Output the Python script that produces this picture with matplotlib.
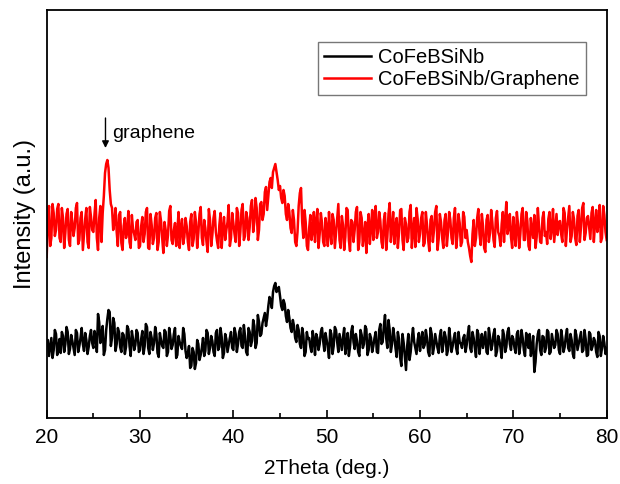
import numpy as np
import matplotlib
matplotlib.use("Agg")
import matplotlib.pyplot as plt
from matplotlib.ticker import MultipleLocator

plt.rcParams['font.family'] = ['Liberation Sans', 'DejaVu Sans']

# Intensity (a.u.).
# *_grid: points at 20.00, 20.25, ..., 80.00 deg
# *_mid : points at 20.125, 20.375, ..., 79.875 deg
cofebsinb_grid = [
    73, 62, 80, 68, 84, 70, 65, 82, 74, 86, 69, 77, 63, 85, 72, 90, 67, 78, 71, 88,
    70, 81, 104, 75, 92, 68, 99, 106, 80, 95, 74, 86, 66, 83, 71, 89, 62, 79, 73, 85,
    68, 87, 72, 91, 64, 80, 75, 84, 61, 78, 70, 86, 66, 82, 73, 90, 63, 76, 69, 84,
    60, 72, 52, 66, 55, 74, 63, 80, 67, 85, 70, 77, 62, 88, 71, 81, 65, 79, 73, 86,
    68, 84, 74, 90, 70, 82, 63, 86, 77, 92, 75, 96, 84, 100, 92, 112, 118, 126, 135, 128,
    122, 108, 114, 96, 100, 86, 92, 76, 88, 70, 83, 66, 79, 71, 87, 63, 80, 74, 90, 67,
    78, 60, 84, 72, 88, 66, 76, 81, 64, 85, 71, 92, 69, 77, 62, 83, 74, 89, 68, 80,
    72, 86, 65, 94, 76, 103, 70, 88, 74, 82, 61, 79, 52, 75, 48, 84, 66, 90, 70, 78,
    67, 86, 73, 80, 62, 84, 71, 77, 65, 88, 74, 81, 68, 79, 72, 85, 64, 76, 70, 83,
    73, 92, 66, 80, 61, 84, 75, 70, 86, 64, 81, 73, 89, 67, 78, 60, 83, 71, 90, 68,
    79, 65, 87, 72, 80, 62, 76, 84, 69, 46, 74, 88, 63, 81, 70, 86, 66, 77, 73, 84,
    64, 80, 71, 89, 67, 78, 60, 83, 74, 86, 68, 79, 63, 84, 72, 77, 61, 82, 70, 75,
    70,
]
cofebsinb_mid = [
    78, 71, 60, 88, 63, 79, 86, 66, 91, 64, 83, 70, 88, 66, 80, 74, 85, 64, 82, 75,
    87, 66, 96, 84, 63, 88, 108, 72, 100, 67, 90, 71, 85, 64, 92, 72, 87, 68, 88, 66,
    79, 64, 94, 70, 86, 68, 91, 65, 85, 72, 88, 62, 90, 69, 84, 60, 82, 72, 90, 67,
    65, 50, 70, 49, 78, 58, 70, 62, 88, 64, 82, 66, 85, 68, 90, 60, 84, 66, 80, 70,
    90, 66, 86, 72, 93, 66, 90, 72, 98, 70, 103, 82, 95, 105, 100, 121, 110, 132, 126, 131,
    112, 118, 102, 108, 90, 98, 80, 93, 74, 90, 62, 86, 80, 66, 78, 84, 68, 86, 77, 85,
    70, 88, 64, 91, 76, 84, 68, 90, 74, 62, 86, 76, 84, 66, 88, 70, 92, 63, 84, 66,
    80, 66, 88, 74, 92, 80, 98, 66, 90, 70, 86, 60, 84, 62, 72, 58, 80, 76, 64, 85,
    78, 70, 88, 66, 90, 64, 84, 70, 82, 66, 86, 63, 90, 66, 80, 70, 86, 74, 80, 66,
    84, 70, 86, 70, 88, 64, 84, 78, 66, 90, 68, 84, 62, 82, 70, 88, 66, 86, 74, 82,
    70, 84, 64, 88, 68, 85, 70, 62, 82, 56, 84, 68, 82, 66, 88, 64, 84, 70, 88, 68,
    88, 66, 82, 70, 84, 64, 88, 68, 80, 66, 88, 62, 86, 68, 80, 66, 86, 62, 82, 64,
]

graphene_grid = [
    161, 212, 180, 205, 188, 214, 176, 200, 185, 209, 172, 196, 190, 215, 178, 206, 183, 210, 170, 201,
    186, 218, 168, 212, 205, 245, 258, 228, 210, 196, 186, 203, 175, 192, 180, 207, 170, 189, 178, 198,
    172, 201, 184, 210, 169, 193, 180, 205, 176, 197, 165, 188, 183, 212, 174, 195, 186, 170, 199, 181,
    192, 168, 204, 179, 196, 185, 211, 173, 190, 166, 198, 183, 207, 177, 193, 170, 201, 188, 213, 180,
    195, 176, 205, 186, 214, 182, 200, 191, 218, 196, 210, 188, 216, 204, 231, 222, 240, 246, 254, 238,
    232, 215, 222, 198, 206, 185, 198, 172, 212, 230, 180, 196, 168, 203, 187, 176, 209, 184, 195, 172,
    190, 206, 174, 198, 185, 214, 170, 193, 181, 208, 167, 196, 188, 211, 176, 200, 183, 165, 204, 190,
    178, 212, 186, 197, 170, 205, 181, 215, 190, 174, 200, 185, 209, 168, 194, 180, 213, 187, 171, 199,
    184, 206, 175, 193, 167, 202, 188, 212, 179, 196, 170, 204, 186, 198, 174, 210, 182, 195, 176, 201,
    188, 170, 156, 198, 180, 209, 173, 192, 166, 203, 185, 196, 171, 207, 182, 194, 176, 216, 190, 181,
    201, 172, 194, 184, 210, 178, 197, 168, 188, 203, 181, 192, 175, 206, 186, 199, 179, 209, 190, 183,
    197, 176, 205, 189, 212, 182, 199, 173, 208, 191, 215, 185, 202, 179, 211, 194, 186, 213, 180, 203,
    178,
]
graphene_mid = [
    198, 172, 214, 182, 209, 180, 210, 170, 204, 178, 206, 182, 210, 174, 200, 168, 199, 176, 211, 188,
    204, 180, 200, 176, 222, 254, 250, 214, 188, 210, 172, 206, 168, 200, 186, 176, 203, 184, 196, 170,
    192, 176, 206, 170, 204, 174, 200, 168, 206, 180, 196, 172, 207, 178, 188, 172, 206, 190, 174, 200,
    176, 196, 172, 206, 170, 204, 180, 198, 176, 209, 172, 200, 186, 170, 205, 190, 178, 196, 172, 205,
    184, 210, 172, 208, 178, 206, 178, 212, 186, 220, 178, 214, 198, 226, 208, 236, 230, 250, 246, 228,
    220, 228, 204, 214, 190, 208, 176, 186, 225, 196, 208, 172, 190, 178, 206, 196, 170, 205, 176, 200,
    172, 186, 204, 170, 200, 178, 202, 168, 210, 178, 198, 176, 206, 168, 206, 172, 196, 192, 174, 208,
    200, 180, 206, 176, 198, 168, 204, 176, 206, 192, 170, 208, 178, 200, 176, 206, 170, 200, 210, 176,
    200, 172, 206, 178, 198, 176, 206, 168, 204, 180, 198, 172, 206, 180, 200, 170, 204, 172, 206, 180,
    176, 162, 184, 172, 200, 184, 204, 170, 198, 176, 208, 178, 200, 186, 172, 206, 198, 184, 204, 170,
    184, 206, 170, 204, 178, 206, 172, 200, 180, 170, 210, 176, 200, 182, 174, 206, 190, 176, 204, 196,
    184, 210, 172, 200, 176, 206, 180, 202, 176, 210, 178, 200, 190, 205, 176, 208, 196, 176, 212, 186,
]

series_labels = ["CoFeBSiNb", "CoFeBSiNb/Graphene"]
x_ticks = [20, 30, 40, 50, 60, 70, 80]


def interleave(grid, mid):
    out = np.empty(len(grid) + len(mid))
    out[0::2] = grid
    out[1::2] = mid
    return out


two_theta = 20.0 + 0.125 * np.arange(len(cofebsinb_grid) + len(cofebsinb_mid))
cofebsinb = interleave(cofebsinb_grid, cofebsinb_mid)
cofebsinb_graphene = interleave(graphene_grid, graphene_mid)

fig = plt.figure(figsize=(6.2, 4.84), dpi=100)
ax = fig.add_axes([0.0753, 0.1364, 0.9032, 0.8429])

ax.plot(two_theta, cofebsinb, color='black', lw=1.8, label=series_labels[0])
ax.plot(two_theta, cofebsinb_graphene, color='#ff0000', lw=1.8, label=series_labels[1])

ax.set_xlim(20, 80)
ax.set_ylim(0, 408)
ax.set_xticks(x_ticks)
ax.xaxis.set_minor_locator(MultipleLocator(5))
ax.set_yticks([])
ax.tick_params(axis='x', which='major', direction='in', length=6, width=1.2,
               labelsize=15, pad=7, top=False)
ax.tick_params(axis='x', which='minor', direction='in', length=3.5, width=1.2, top=False)
for s in ax.spines.values():
    s.set_linewidth(1.3)

ax.set_xlabel("2Theta (deg.)", fontsize=15, labelpad=9)
ax.set_ylabel("Intensity (a.u.)", fontsize=17, labelpad=8)

ax.annotate("", xy=(26.3, 270), xytext=(26.3, 300),
            arrowprops=dict(arrowstyle='-|>', color='black', lw=1.0,
                            mutation_scale=10, shrinkA=0, shrinkB=0))
ax.text(27.0, 285, "graphene", fontsize=14, va='center', ha='left')

leg = ax.legend(loc='upper right', bbox_to_anchor=(0.963, 0.922), borderaxespad=0,
                fontsize=14.5, frameon=True, fancybox=False, handlelength=2.35,
                handletextpad=0.35, borderpad=0.3, labelspacing=0.15)
leg.get_frame().set_edgecolor('#555555')
leg.get_frame().set_linewidth(1.0)

fig.savefig("out.png", dpi=100)
